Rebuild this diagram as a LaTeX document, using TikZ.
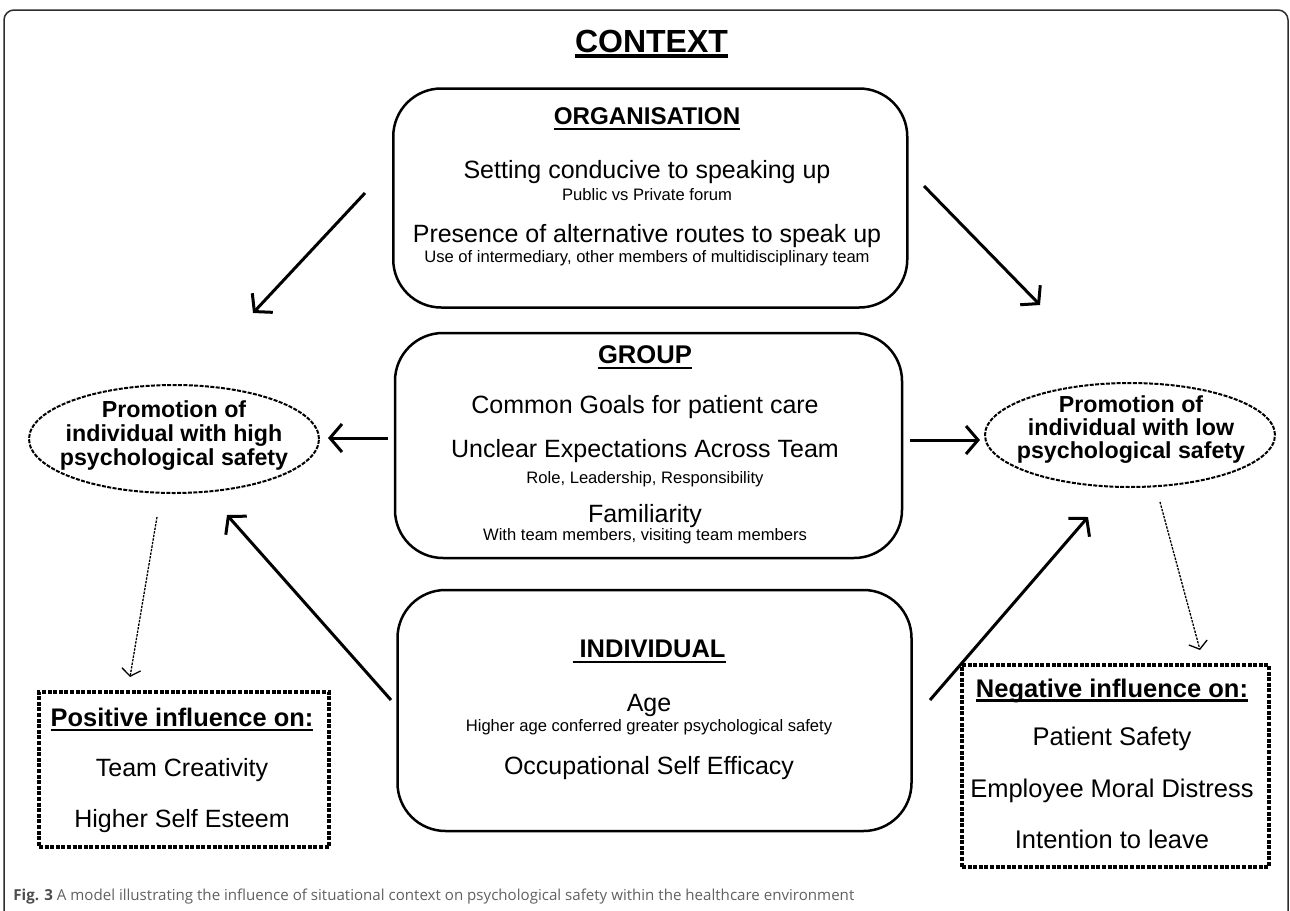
\documentclass[tikz,border=0pt]{standalone}
\usepackage{fontspec}
\setmainfont{Liberation Sans}
\newfontfamily\capfont{Open Sans}
\usetikzlibrary{arrows.meta,shapes.geometric}
\newcommand\fsz[1]{\fontsize{#1pt}{#1pt}\selectfont}
\begin{document}
\begin{tikzpicture}[x=0.5pt,y=-0.5pt,
  txt/.style={inner sep=0pt,outer sep=0pt,anchor=base},
  rbox/.style={draw,line width=1.25pt,rounded corners=24pt,inner sep=0pt,outer sep=0pt},
  dbox/.style={draw,line width=1.6pt,dash pattern=on 2pt off 0.8pt,inner sep=0pt,outer sep=0pt},
  dell/.style={draw,ellipse,line width=1pt,dash pattern=on 2pt off 0.7pt,inner sep=0pt,outer sep=0pt},
  arr/.style={line width=1.5pt,-{Straight Barb[length=6pt,width=14pt]}},
  darr/.style={line width=0.65pt,dash pattern=on 1.2pt off 0.6pt,-{Straight Barb[length=3.5pt,width=9.5pt]}},
  ul/.style={line width=1.1pt},
  big/.style={font=\fsz{12.5}},
  small/.style={font=\fsz{8.3}},
  head/.style={font=\bfseries\fsz{#1}},
  etxt/.style={font=\bfseries\fsz{11.6}}
]
\useasboundingbox (0,0) rectangle (1290,910);
% outer frame
\draw[line width=0.75pt,gray!35!black,rounded corners=5pt] (4,925) -- (4,10) -- (1288,10) -- (1288,925);

% title
\node[txt,font=\bfseries\fsz{16}] (title) at (651.5,52) {CONTEXT};
\draw[line width=1.75pt] ([yshift=-2pt]title.base west) -- ([yshift=-2pt]title.base east);

% ORGANISATION box
\node[rbox,minimum width=257pt,minimum height=109.5pt] (org) at (650.25,198) {};
\node[txt,head=12.1] (orgh) at (647,124) {ORGANISATION};
\draw[ul] ([yshift=-2.5pt]orgh.base west) -- ([yshift=-2.5pt]orgh.base east);
\node[txt,big] (org1) at (647,178) {Setting conducive to speaking up};
\node[txt,small] (org1s) at (647,200) {Public vs Private forum};
\node[txt,big] (org2) at (647,242) {Presence of alternative routes to speak up};
\node[txt,small] (org2s) at (647,262) {Use of intermediary, other members of multidisciplinary team};

% GROUP box
\node[rbox,minimum width=253.5pt,minimum height=112.5pt] (grp) at (648.5,445.5) {};
\node[txt,head=12.8] (grph) at (645,363) {GROUP};
\draw[ul] ([yshift=-2.5pt]grph.base west) -- ([yshift=-2.5pt]grph.base east);
\node[txt,big] (grp1) at (645,413) {Common Goals for patient care};
\node[txt,big] (grp2) at (645,457) {Unclear Expectations Across Team};
\node[txt,small] (grp2s) at (645,483) {Role, Leadership, Responsibility};
\node[txt,big] (grp3) at (645,522) {Familiarity};
\node[txt,small] (grp3s) at (645,540) {With team members, visiting team members};

% INDIVIDUAL box
\node[rbox,minimum width=257pt,minimum height=120.5pt] (ind) at (654.5,710.5) {};
\node[txt,head=12.75] (indh) at (649,657.5) {\ INDIVIDUAL};
\draw[ul] ([yshift=-2.25pt]indh.base west) -- ([yshift=-2.25pt]indh.base east);
\node[txt,big] (ind1) at (649,711.5) {Age};
\node[txt,small] (ind1s) at (649,731) {Higher age conferred greater psychological safety};
\node[txt,big] (ind2) at (649,774) {Occupational Self Efficacy};

% ellipses
\node[dell,minimum width=145pt,minimum height=54pt] (ellL) at (174,439) {};
\node[txt,etxt] (eL1) at (174,417) {Promotion of};
\node[txt,etxt] (eL2) at (174,441) {individual with high};
\node[txt,etxt] (eL3) at (174,465) {psychological safety};

\node[dell,minimum width=145pt,minimum height=52pt] (ellR) at (1130,435) {};
\node[txt,etxt] (eR1) at (1131,412) {Promotion of};
\node[txt,etxt] (eR2) at (1131,435) {individual with low};
\node[txt,etxt] (eR3) at (1131,458) {psychological safety};

% outcome boxes
\node[dbox,minimum width=145pt,minimum height=77.5pt] (pos) at (184,769.5) {};
\node[txt,head=12.7] (posh) at (182,726) {Positive influence on:};
\draw[ul] ([yshift=-2pt]posh.base west) -- ([yshift=-2pt]posh.base east);
\node[txt,big] (pos1) at (182,776) {Team Creativity};
\node[txt,big] (pos2) at (182,827) {Higher Self Esteem};

\node[dbox,minimum width=153.5pt,minimum height=101pt] (neg) at (1115.5,766) {};
\node[txt,head=12.75] (negh) at (1112,697) {Negative influence on:};
\draw[ul] ([yshift=-1.75pt]negh.base west) -- ([yshift=-1.75pt]negh.base east);
\node[txt,font=\fsz{12.75}] (neg1) at (1112,745) {Patient Safety};
\node[txt,font=\fsz{12.75}] (neg2) at (1112,797) {Employee Moral Distress};
\node[txt,font=\fsz{12.75}] (neg3) at (1112,848) {Intention to leave};

% arrow end points
\coordinate (aOL1) at (365,193); \coordinate (aOL2) at (253,313);
\coordinate (aOR1) at (924,186); \coordinate (aOR2) at (1040,305);
\coordinate (aGL1) at (388,438); \coordinate (aGL2) at (328,438);
\coordinate (aGR1) at (910,440); \coordinate (aGR2) at (980,440);
\coordinate (aIL1) at (391,700); \coordinate (aIL2) at (227,515);
\coordinate (aIR1) at (930,700); \coordinate (aIR2) at (1088,517);
\coordinate (dL1) at (157,517); \coordinate (dL2) at (130,677);
\coordinate (dR1) at (1160,502); \coordinate (dR2) at (1200,650);

\draw[arr] (aOL1) -- (aOL2);
\draw[arr] (aOR1) -- (aOR2);
\draw[arr] (aGL1) -- (aGL2);
\draw[arr] (aGR1) -- (aGR2);
\draw[arr] (aIL1) -- (aIL2);
\draw[arr] (aIR1) -- (aIR2);
\draw[darr] (dL1) -- (dL2);
\draw[darr] (dR1) -- (dR2);

% caption
\node[inner sep=0pt,anchor=base west,text=gray!75!black,font=\capfont\fsz{7.55}] (cap) at (13,900)
  {{\bfseries\color{gray!60!black}Fig. 3} A model illustrating the influence of situational context on psychological safety within the healthcare environment};
\end{tikzpicture}
\end{document}
